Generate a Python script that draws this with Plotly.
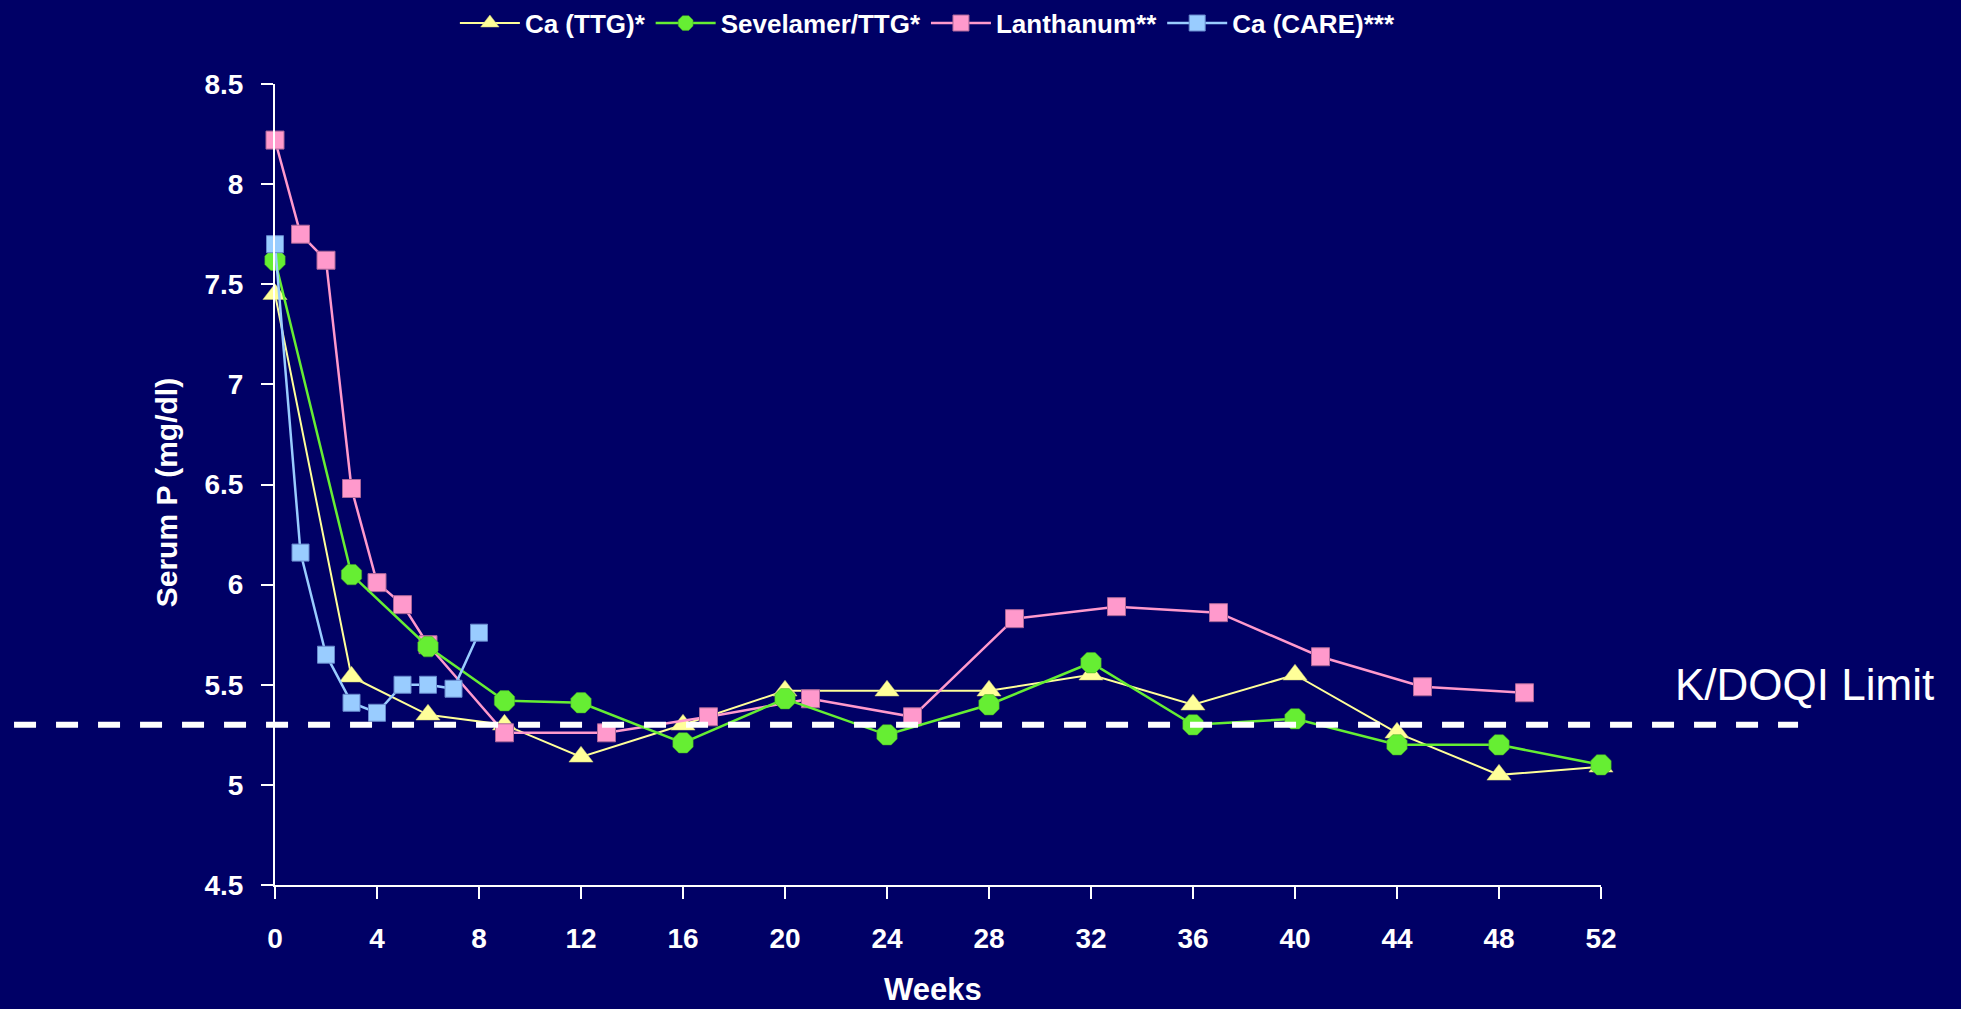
import plotly.graph_objects as go

# ---- data ----
weeks_ttg = [0, 3, 6, 9, 12, 16, 20, 24, 28, 32, 36, 40, 44, 48, 52]
ca_ttg = [7.45, 5.54, 5.35, 5.30, 5.14, 5.30, 5.47, 5.47, 5.47, 5.55, 5.40, 5.55, 5.26, 5.05, 5.09]

weeks_sev = [0, 3, 6, 9, 12, 16, 20, 24, 28, 32, 36, 40, 44, 48, 52]
sevelamer = [7.62, 6.05, 5.69, 5.42, 5.41, 5.21, 5.43, 5.25, 5.40, 5.61, 5.30, 5.33, 5.20, 5.20, 5.10]

weeks_lan = [0, 1, 2, 3, 4, 5, 6, 9, 13, 17, 21, 25, 29, 33, 37, 41, 45, 49]
lanthanum = [8.22, 7.75, 7.62, 6.48, 6.01, 5.90, 5.70, 5.26, 5.26, 5.34, 5.43, 5.34, 5.83, 5.89, 5.86, 5.64, 5.49, 5.46]

weeks_care = [0, 1, 2, 3, 4, 5, 6, 7, 8]
ca_care = [7.70, 6.16, 5.65, 5.41, 5.36, 5.50, 5.50, 5.48, 5.76]

kdoqi_limit = 5.3
x_ticks = list(range(0, 53, 4))
y_ticks = [4.5, 5, 5.5, 6, 6.5, 7, 7.5, 8, 8.5]
y_tick_text = ["4.5", "5", "5.5", "6", "6.5", "7", "7.5", "8", "8.5"]

BG = "#000066"
FONT = "Liberation Sans, Arial, sans-serif"

fig = go.Figure()

fig.add_trace(go.Scatter(
    x=weeks_ttg, y=ca_ttg, name="Ca (TTG)*", mode="lines+markers",
    line=dict(color="#FFFF99", width=2),
    marker=dict(symbol="triangle-up", size=21, color="#FFFF99",
                line=dict(color="#CCCC77", width=0.5)),
    cliponaxis=False, legendrank=1))

fig.add_trace(go.Scatter(
    x=weeks_lan, y=lanthanum, name="Lanthanum**", mode="lines+markers",
    line=dict(color="#FF99CC", width=2.5),
    marker=dict(symbol="square", size=18, color="#FF99CC",
                line=dict(color="#AA6699", width=1)),
    cliponaxis=False, legendrank=3))

fig.add_trace(go.Scatter(
    x=weeks_sev, y=sevelamer, name="Sevelamer/TTG*", mode="lines+markers",
    line=dict(color="#66EE33", width=2.5),
    marker=dict(symbol="octagon", size=22, color="#66EE33",
                line=dict(color="#44AA22", width=0.5)),
    cliponaxis=False, legendrank=2))

fig.add_trace(go.Scatter(
    x=weeks_care, y=ca_care, name="Ca (CARE)***", mode="lines+markers",
    line=dict(color="#99CCFF", width=2.5),
    marker=dict(symbol="square", size=17, color="#99CCFF",
                line=dict(color="#6688CC", width=1)),
    cliponaxis=False, legendrank=4))

# K/DOQI limit dashed line
fig.add_shape(type="line", xref="paper", yref="y",
              x0=-0.1968, x1=1.1486, y0=kdoqi_limit, y1=kdoqi_limit,
              line=dict(color="white", width=6, dash="22px,20px"),
              layer="above")

fig.add_annotation(text="K/DOQI Limit", xref="paper", yref="paper",
                   x=1.0543, y=0.250, xanchor="left", yanchor="middle",
                   showarrow=False, font=dict(family=FONT, size=44, color="white"))

fig.add_annotation(text="<b>Serum P (mg/dl)</b>", xref="paper", yref="paper",
                   x=-0.0822, y=0.489, xanchor="center", yanchor="middle",
                   textangle=-90, showarrow=False,
                   font=dict(family=FONT, size=30, color="white"))

fig.add_annotation(text="<b>Weeks</b>", xref="paper", yref="paper",
                   x=0.496, y=-0.131, xanchor="center", yanchor="middle",
                   showarrow=False, font=dict(family=FONT, size=31, color="white"))

axis_common = dict(showline=True, linecolor="white", linewidth=2,
                   ticks="outside", tickcolor="white", tickwidth=2, ticklen=12,
                   showgrid=False, zeroline=False,
                   tickfont=dict(family=FONT, size=28, color="white", weight="bold"))

fig.update_xaxes(range=[0, 52], tickvals=x_ticks, ticklabelstandoff=15, **axis_common)
fig.update_yaxes(range=[4.5, 8.5], tickvals=y_ticks, ticktext=y_tick_text,
                 ticklabelstandoff=12, **axis_common)

fig.update_layout(
    width=1961, height=1009,
    margin=dict(l=275, r=360, t=84, b=124, autoexpand=False),
    paper_bgcolor=BG, plot_bgcolor=BG,
    showlegend=True,
    legend=dict(orientation="h", x=0.492, xanchor="center", y=1.076, yanchor="middle",
                font=dict(family=FONT, size=26, color="white", weight="bold"),
                bgcolor="rgba(0,0,0,0)", itemwidth=60, traceorder="normal"),
)

fig.write_html("out.html",
               config={"displayModeBar": False},
               post_script="document.body.style.margin='0';"
                           "document.body.style.background='#000066';"
                           "document.body.style.overflow='hidden';")
